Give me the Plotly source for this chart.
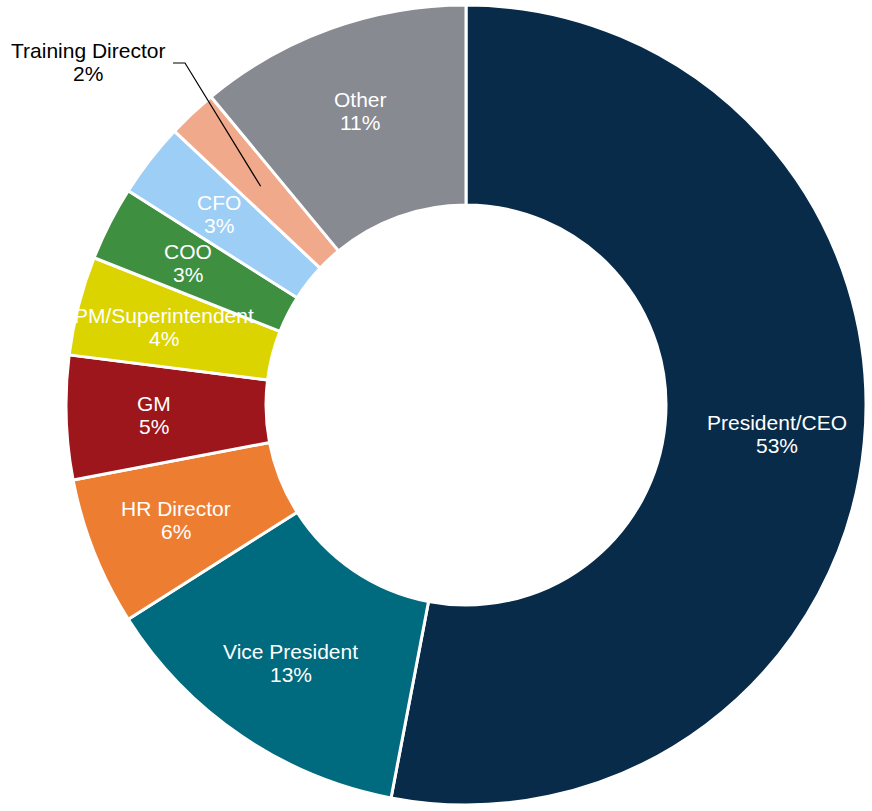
import math
import plotly.graph_objects as go

# Survey respondents by job title (share of total, %)
titles = ["President/CEO", "Vice President", "HR Director", "GM", "PM/Superintendent",
          "COO", "CFO", "Training Director", "Other"]
shares = [53, 13, 6, 5, 4, 3, 3, 2, 11]
colors = ["#082B49", "#006A7E", "#ED7D31", "#9C161B", "#DCD400",
          "#3F8F41", "#9DCEF5", "#F0A98A", "#878A90"]

W, H = 872, 811
CX, CY, R = 466, 405, 400          # donut centre and outer radius (pixels)
HOLE = 0.5
LABEL_R = 0.78                     # label distance from centre, as a fraction of R
FONT = "Liberation Sans, Arial, sans-serif"
FS = 21

fig = go.Figure(go.Pie(
    labels=titles,
    values=shares,
    sort=False,
    direction="clockwise",
    rotation=0,
    hole=HOLE,
    textinfo="none",
    hoverinfo="label+percent",
    marker=dict(colors=colors, line=dict(color="white", width=3)),
    domain=dict(x=[(CX - R) / W, (CX + R) / W], y=[1 - (CY + R) / H, 1 - (CY - R) / H]),
))


def px_to_paper(x, y):
    return x / W, 1 - y / H


total = sum(shares)
annotations = []
shapes = []
cum = 0.0
for name, val in zip(titles, shares):
    mid = (cum + val / 2) / total * 2 * math.pi   # clockwise from 12 o'clock
    cum += val
    lx = CX + math.sin(mid) * R * LABEL_R
    ly = CY - math.cos(mid) * R * LABEL_R
    pct = f"{round(val / total * 100)}%"
    if name == "Training Director":
        # label sits outside the ring with a leader line into the slice
        tx, ty = 88, 62
        for txt, dy in ((name, -11.5), (pct, 11.5)):
            ax, ay = px_to_paper(tx, ty + dy)
            annotations.append(dict(x=ax, y=ay, xref="paper", yref="paper", text=txt,
                                    showarrow=False, xanchor="center", yanchor="middle",
                                    font=dict(family=FONT, size=FS, color="black")))
        p0 = px_to_paper(173, 63)
        p1 = px_to_paper(185, 63)
        p2 = px_to_paper(CX + math.sin(mid) * R * 0.75, CY - math.cos(mid) * R * 0.75)
        shapes.append(dict(type="path", xref="paper", yref="paper",
                           path=f"M {p0[0]},{p0[1]} L {p1[0]},{p1[1]} L {p2[0]},{p2[1]}",
                           line=dict(color="black", width=1.2)))
        continue
    for txt, dy in ((name, -11.5), (pct, 11.5)):
        ax, ay = px_to_paper(lx, ly + dy)
        annotations.append(dict(x=ax, y=ay, xref="paper", yref="paper", text=txt,
                                showarrow=False, xanchor="center", yanchor="middle",
                                font=dict(family=FONT, size=FS, color="white")))

fig.update_layout(
    width=W, height=H,
    margin=dict(l=0, r=0, t=0, b=0),
    paper_bgcolor="white",
    plot_bgcolor="white",
    showlegend=False,
    annotations=annotations,
    shapes=shapes,
)

fig.write_html("out.html")
